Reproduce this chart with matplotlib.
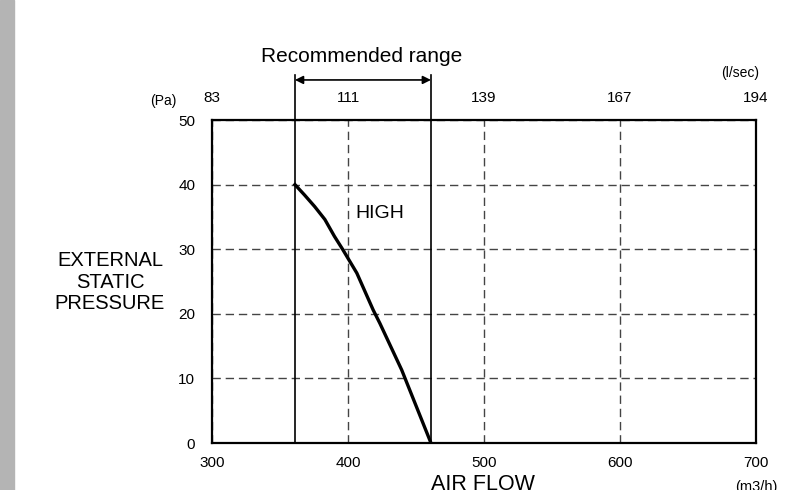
import numpy as np
import matplotlib.pyplot as plt
from matplotlib.patches import Rectangle

plt.rcParams['font.family'] = ['Liberation Sans', 'DejaVu Sans']

# fan curve (HIGH)
airflow = [361, 368, 375.5, 383, 390, 396, 406.5, 418.5, 423.5, 439.5, 461]   # m3/h
pressure = [40, 38.4, 36.6, 34.6, 32, 30, 26.3, 20.6, 18.5, 11.3, 0]          # Pa

x_ticks = [300, 400, 500, 600, 700]
lsec_labels = ['83', '111', '139', '167', '194']
y_ticks = [0, 10, 20, 30, 40, 50]
rec_range = [361, 461]

fig = plt.figure(figsize=(7.89, 4.90), dpi=100)
fig.patches.append(Rectangle((0, 0), 14 / 789, 1, transform=fig.transFigure,
                             color='#b4b4b4', zorder=0))
ax = fig.add_axes([212 / 789, 47 / 490, 544 / 789, 323 / 490])

ax.plot(airflow, pressure, color='black', lw=2.4, solid_joinstyle='round')
ax.set_xlim(300, 700)
ax.set_ylim(0, 50)
ax.set_xticks(x_ticks)
ax.set_yticks(y_ticks)
ax.tick_params(length=0, labelsize=11, pad=9)
ax.tick_params(axis='y', pad=12)
ax.grid(True, linestyle=(0, (6, 3.5)), color='#444444', lw=1.0)
for s in ax.spines.values():
    s.set_linewidth(1.6)

# l/sec scale on top
sec = ax.secondary_xaxis('top')
sec.set_xticks(x_ticks)
sec.set_xticklabels(lsec_labels)
sec.tick_params(length=0, labelsize=11, pad=10.5)
sec.spines['top'].set_visible(False)

# recommended range
for xv in rec_range:
    ax.plot([xv, xv], [0, 57], color='black', lw=1.2, clip_on=False)
ax.annotate('', xy=(rec_range[0], 56.2), xytext=(rec_range[1], 56.2),
            arrowprops=dict(arrowstyle='<|-|>', color='black', lw=1.2,
                            shrinkA=0, shrinkB=0, mutation_scale=12),
            annotation_clip=False)
fig.text(362 / 789, 1 - 62 / 490, 'Recommended range', ha='center', va='baseline',
         fontsize=15)

ax.text(423.5, 35.5, 'HIGH', ha='center', va='center', fontsize=14)

fig.text(163 / 789, 1 - 101 / 490, '(Pa)', ha='center', va='center', fontsize=10)
fig.text(740 / 789, 1 - 73 / 490, '(l/sec)', ha='center', va='center', fontsize=10)
fig.text(110 / 789, 1 - 282 / 490, 'EXTERNAL\nSTATIC\nPRESSURE', ha='center',
         va='center', fontsize=14.5, linespacing=1.15)
fig.text(483 / 789, 1 - 474 / 490, 'AIR FLOW', ha='center', va='top', fontsize=15.5)
fig.text(735 / 789, 1 - 480 / 490, '(m3/h)', ha='left', va='top', fontsize=10.5)

fig.savefig('out.png', dpi=100)
